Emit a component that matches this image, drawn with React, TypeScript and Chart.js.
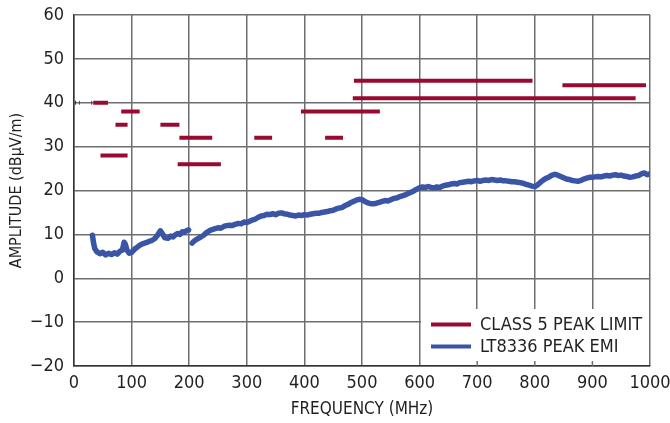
import React, { useEffect, useRef } from "react";
import { Chart, registerables } from "chart.js";

Chart.register(...registerables);

// ---- Data ----
const xTickValues = [0, 100, 200, 300, 400, 500, 600, 700, 800, 900, 1000];
const yTickValues = [-20, -10, 0, 10, 20, 30, 40, 50, 60];

const limitLabel = "CLASS 5 PEAK LIMIT";
const limitStart = [1.5, 8.5, 30, 33.5, 82, 394, 72, 150, 183, 313, 436, 46, 180, 486, 484, 848];
const limitEnd = [3.5, 10, 31.5, 59, 114, 531, 93, 183, 240, 344, 467, 93, 255, 796, 975, 993];
const limitLevel = [40, 40, 40, 40, 38, 38, 35, 35, 32, 32, 32, 28, 26, 45, 41, 44];

const emiLabel = "LT8336 PEAK EMI";
const emiFreq = [
  32, 34, 36, 40, 45, 50, 55, 60, 65, 70, 75, 80, 84, 87, 89, 92, 96, 100, 105, 110,
  115, 120, 125, 130, 135, 140, 145, 150, 154, 158, 163, 168, 172, 176, 180, 184, 188, 192, 196, 199,
  202,
  205, 208, 212, 216, 220, 225, 230, 235, 240, 245, 250, 255, 260, 265, 270, 275, 280, 285, 290, 295,
  300, 305, 310, 315, 320, 325, 330, 335, 340, 345, 350, 355, 360, 365, 370, 375, 380, 385, 390, 395,
  400, 405, 410, 415, 420, 425, 430, 435, 440, 445, 450, 455, 460, 465, 470, 475, 480, 485, 490, 495,
  500, 505, 510, 515, 520, 525, 530, 535, 540, 545, 550, 555, 560, 565, 570, 575, 580, 585, 590, 595,
  600, 605, 610, 615, 620, 625, 630, 635, 640, 645, 650, 655, 660, 665, 670, 675, 680, 685, 690, 695,
  700, 705, 710, 715, 720, 725, 730, 735, 740, 745, 750, 755, 760, 765, 770, 775, 780, 785, 790, 795,
  800, 805, 810, 815, 820, 825, 830, 835, 840, 845, 850, 855, 860, 865, 870, 875, 880, 885, 890, 895,
  900, 905, 910, 915, 920, 925, 930, 935, 940, 945, 950, 955, 960, 965, 970, 975, 980, 985, 990, 995, 1000,
];
const emiAmp = [
  9.8, 8.0, 6.8, 6.0, 5.6, 5.9, 5.3, 5.7, 5.4, 5.8, 5.5, 6.2, 6.4, 8.2, 7.8, 6.4, 5.7, 5.9, 6.6, 7.1,
  7.6, 7.9, 8.1, 8.4, 8.6, 9.0, 9.8, 10.8, 10.0, 9.2, 9.1, 9.6, 9.4, 9.9, 10.2, 10.0, 10.6, 10.5, 10.9, 11.0,
  null,
  8.0, 8.4, 8.8, 9.1, 9.4, 9.8, 10.4, 10.8, 11.1, 11.3, 11.5, 11.4, 11.8, 12.0, 12.1, 12.0, 12.3, 12.5, 12.4, 12.8,
  12.7, 13.0, 13.3, 13.5, 13.9, 14.2, 14.3, 14.6, 14.5, 14.7, 14.5, 14.8, 14.9, 14.7, 14.6, 14.4, 14.3, 14.2, 14.4, 14.3,
  14.5, 14.4, 14.6, 14.7, 14.8, 14.8, 15.0, 15.1, 15.2, 15.4, 15.5, 15.8, 16.0, 16.1, 16.5, 16.8, 17.2, 17.5, 17.8, 18.0,
  17.9, 17.5, 17.2, 17.0, 17.0, 17.1, 17.3, 17.5, 17.7, 17.6, 17.9, 18.2, 18.3, 18.6, 18.8, 19.0, 19.3, 19.6, 19.9, 20.3,
  20.6, 20.8, 20.7, 20.9, 20.7, 20.6, 20.8, 20.7, 21.0, 21.2, 21.3, 21.5, 21.6, 21.5, 21.8, 21.9, 22.0, 22.1, 22.0, 22.2,
  22.3, 22.1, 22.3, 22.4, 22.3, 22.5, 22.4, 22.3, 22.4, 22.2, 22.2, 22.1, 22.0, 22.0, 21.9, 21.8, 21.6, 21.4, 21.2, 21.0,
  20.9, 21.3, 21.9, 22.4, 22.8, 23.1, 23.5, 23.7, 23.5, 23.2, 22.9, 22.6, 22.5, 22.3, 22.2, 22.1, 22.3, 22.6, 22.8, 23.0,
  23.0, 23.1, 23.2, 23.1, 23.3, 23.4, 23.3, 23.5, 23.6, 23.4, 23.5, 23.3, 23.2, 23.0, 23.1, 23.3, 23.4, 23.8, 24.0, 23.6, 23.8,
];

// ---- Styles ----
const RED = "#990a30";
const BLUE = "#3a55a6";
const TEXT = "#231f20";
const GRID = "#6e6e6e";
const FONT = "'Liberation Sans Narrow', 'Arial Narrow', 'DejaVu Sans Condensed', sans-serif";
const FS = 18;

const minus = (v: number) => String(v).replace("-", "\u2212");

const legendPlugin = {
  id: "boxLegend",
  afterDatasetsDraw(chart: any) {
    const ctx = chart.ctx;
    const { right, bottom } = chart.chartArea;
    const xs = chart.scales.x;
    const left = Math.round(xs.getPixelForValue(600)) + 1;
    const top = 309;
    ctx.save();
    ctx.fillStyle = "#ffffff";
    ctx.fillRect(left, top, right - left - 1, bottom - top - 1);
    // inner tick marks on the bottom axis
    ctx.strokeStyle = GRID;
    ctx.lineWidth = 1.5;
    xTickValues.forEach((v) => {
      const px = xs.getPixelForValue(v);
      if (px > left + 2 && px < right - 2) {
        ctx.beginPath();
        ctx.moveTo(px, bottom);
        ctx.lineTo(px, bottom - 5);
        ctx.stroke();
      }
    });
    const rows = [324.5, 346.5];
    chart.data.datasets.forEach((ds: any, i: number) => {
      const y = rows[i];
      ctx.strokeStyle = ds.borderColor;
      ctx.lineWidth = 4;
      ctx.beginPath();
      ctx.moveTo(431, y);
      ctx.lineTo(471, y);
      ctx.stroke();
      ctx.fillStyle = TEXT;
      ctx.font = `${FS}px ${FONT}`;
      ctx.textBaseline = "middle";
      ctx.textAlign = "left";
      ctx.fillText(ds.label, 480, y + 1);
    });
    ctx.restore();
  },
};

export default function App() {
  const ref = useRef<HTMLCanvasElement | null>(null);

  useEffect(() => {
    if (!ref.current) return;
    const limitData: any[] = [];
    limitStart.forEach((s, i) => {
      limitData.push({ x: s, y: limitLevel[i] });
      limitData.push({ x: limitEnd[i], y: limitLevel[i] });
      limitData.push({ x: limitEnd[i], y: null });
    });
    const emiData = emiFreq.map((f, i) => ({ x: f, y: emiAmp[i] }));

    const chart = new Chart(ref.current, {
      type: "line",
      data: {
        datasets: [
          {
            label: limitLabel,
            data: limitData,
            borderColor: RED,
            backgroundColor: RED,
            borderWidth: 4,
            pointRadius: 0,
            spanGaps: false,
            borderCapStyle: "butt",
          },
          {
            label: emiLabel,
            data: emiData,
            borderColor: BLUE,
            backgroundColor: BLUE,
            borderWidth: 5.5,
            pointRadius: 0,
            spanGaps: false,
            borderJoinStyle: "round",
            borderCapStyle: "round",
          },
        ],
      },
      options: {
        animation: false,
        responsive: false,
        maintainAspectRatio: false,
        layout: { padding: { left: 7, right: 20, top: 15, bottom: 3 } },
        plugins: {
          legend: { display: false },
          tooltip: { enabled: false },
        },
        scales: {
          x: {
            type: "linear",
            min: 0,
            max: 1000,
            afterBuildTicks: (s: any) => {
              s.ticks = xTickValues.map((v) => ({ value: v }));
            },
            afterFit: (s: any) => {
              s.height = 54;
              s.paddingLeft = 0;
              s.paddingRight = 0;
            },
            ticks: {
              autoSkip: false,
              maxRotation: 0,
              padding: 7,
              color: TEXT,
              font: { family: FONT, size: FS },
              callback: (v: any) => minus(v),
            },
            grid: { color: GRID, lineWidth: 1.5, drawTicks: false },
            border: { color: "#333", width: 1.5 },
            title: {
              display: true,
              text: "FREQUENCY (MHz)",
              color: TEXT,
              font: { family: FONT, size: 17 },
              padding: 0,
            },
          },
          y: {
            type: "linear",
            min: -20,
            max: 60,
            afterBuildTicks: (s: any) => {
              s.ticks = yTickValues.map((v) => ({ value: v }));
            },
            afterFit: (s: any) => {
              s.width = 67;
              s.paddingTop = 0;
              s.paddingBottom = 0;
            },
            ticks: {
              padding: 10,
              color: TEXT,
              font: { family: FONT, size: FS },
              callback: (v: any) => minus(v),
            },
            grid: { color: GRID, lineWidth: 1.5, drawTicks: false },
            border: { color: "#333", width: 1.5 },
            title: {
              display: true,
              text: "AMPLITUDE (dBμV/m)",
              color: TEXT,
              font: { family: FONT, size: 16 },
              padding: 0,
            },
          },
        },
      },
      plugins: [legendPlugin],
    });
    return () => chart.destroy();
  }, []);

  return (
    <div style={{ position: "fixed", left: 0, top: 0, width: 670, height: 423, background: "#fff" }}>
      <canvas ref={ref} width={670} height={423} style={{ display: "block", width: 670, height: 423 }} />
    </div>
  );
}
